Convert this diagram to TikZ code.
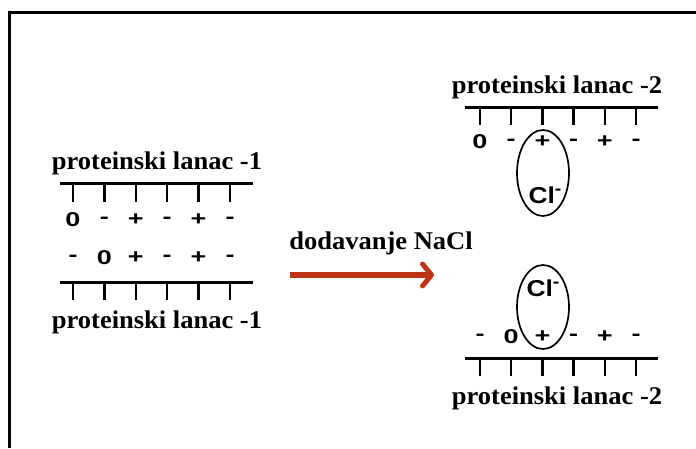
\documentclass[tikz,border=0pt]{standalone}
\usepackage{fontspec}
\setmainfont{Liberation Serif}
\newfontfamily\signfont{Liberation Sans}
\usetikzlibrary{arrows.meta,shapes.geometric}
\definecolor{arrowred}{RGB}{190,52,22}
\newcommand{\chloride}{Cl\raisebox{0.40em}{\fontsize{17}{17}\selectfont -}}
\begin{document}
\begin{tikzpicture}[x=1pt,y=-1pt,
  backbone/.style={line width=3pt},
  tick/.style={line width=2.5pt},
  chainlabel/.style={font=\fontsize{25.5}{26}\selectfont\bfseries, xscale=1.04, inner sep=0},
  charge/.style={font=\signfont\fontsize{20}{20}\selectfont\bfseries, xscale=1.35, inner sep=0},
  ion/.style={font=\signfont\fontsize{23}{23}\selectfont\bfseries, xscale=1.15, inner sep=0},
  shell/.style={draw, ellipse, line width=1.7pt, inner sep=0},
  frame/.style={line width=3pt},
  addarrow/.style={draw=arrowred, line width=6pt,
    -{Straight Barb[length=9pt,width=22pt,line width=5pt,round]}}]
\useasboundingbox (0,0) rectangle (696,448);
\draw[frame] (9,448) -- (9,12) -- (696,12);

% ---- left: two chains with -1 ----
\node[chainlabel] (labL1) at (157,163) {proteinski lanac -1};
\coordinate (L1a) at (60,183);  \coordinate (L1b) at (253,183);
\draw[backbone] (L1a) -- (L1b);
\coordinate (L2a) at (60,282);  \coordinate (L2b) at (253,282);
\draw[backbone] (L2a) -- (L2b);
\foreach \i in {0,...,5}{
  \pgfmathsetmacro{\xx}{73+31.4*\i}
  \draw[tick] (\xx,183) -- (\xx,202);
  \draw[tick] (\xx,282) -- (\xx,300);
}
\foreach \s [count=\i from 0] in {0,-,+,-,+,-}{
  \node[charge] (cu\i) at ({73+31.4*\i},220) {\s};
}
\foreach \s [count=\i from 0] in {-,0,+,-,+,-}{
  \node[charge] (cl\i) at ({73+31.4*\i},258) {\s};
}
\node[chainlabel] (labL2) at (157,322) {proteinski lanac -1};

% ---- arrow ----
\node[chainlabel] (addlabel) at (381,243) {dodavanje NaCl};
\coordinate (arrS) at (290,275);
\coordinate (arrE) at (434,275);
\draw[addarrow] (arrS) -- (arrE);

% ---- right top chain ----
\node[chainlabel] (labR1) at (557,87) {proteinski lanac -2};
\coordinate (R1a) at (465,107); \coordinate (R1b) at (658,107);
\draw[backbone] (R1a) -- (R1b);
\foreach \i in {0,...,5}{
  \pgfmathsetmacro{\xx}{480+31.2*\i}
  \draw[tick] (\xx,107) -- (\xx,125);
}
\foreach \s [count=\i from 0] in {0,-,+,-,+,-}{
  \node[charge] (tu\i) at ({480+31.2*\i},142) {\s};
}
\node[shell, minimum width=52pt, minimum height=86pt] (shellT) at (543,173) {};
\node[ion] (clT) at (545,195) {\chloride};

% ---- right bottom chain ----
\node[shell, minimum width=52pt, minimum height=84pt] (shellB) at (543,307) {};
\node[ion] (clB) at (543,288) {\chloride};
\foreach \s [count=\i from 0] in {-,0,+,-,+,-}{
  \node[charge] (bu\i) at ({480+31.2*\i},337) {\s};
}
\coordinate (R2a) at (465,358); \coordinate (R2b) at (658,358);
\draw[backbone] (R2a) -- (R2b);
\foreach \i in {0,...,5}{
  \pgfmathsetmacro{\xx}{480+31.2*\i}
  \draw[tick] (\xx,358) -- (\xx,376);
}
\node[chainlabel] (labR2) at (557,398) {proteinski lanac -2};
\end{tikzpicture}
\end{document}
